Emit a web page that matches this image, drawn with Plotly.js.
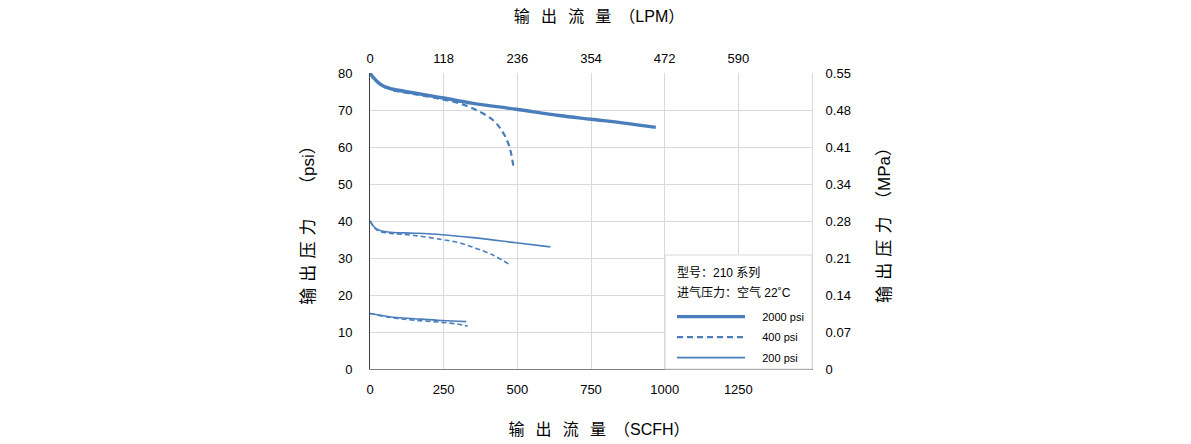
<!DOCTYPE html>
<html>
<head>
<meta charset="utf-8">
<script src="https://cdn.plot.ly/plotly-3.0.1.min.js"></script>
<style>html,body{margin:0;padding:0;background:#fff;}#chart{width:1191px;height:444px;}</style>
</head>
<body>
<div id="chart"></div>
<script>
// Flow (SCFH) and outlet pressure (psi)
const hiSolidX = [0, 11, 28, 45, 62, 79, 150, 244, 350, 496, 642, 750, 870, 970];
const hiSolidY = [80, 78.8, 77.4, 76.5, 76.0, 75.6, 74.6, 73.3, 71.8, 70.2, 68.5, 67.5, 66.4, 65.3];
const hiDashX = [0, 11, 28, 45, 62, 79, 150, 244, 304, 360, 417, 450, 473, 487];
const hiDashY = [80, 78.8, 77.3, 76.3, 75.8, 75.3, 74.3, 72.9, 71.8, 70.0, 67.3, 64.1, 60.1, 54.6];
const midSolidX = [0, 10, 20, 34, 55, 79, 150, 244, 350, 496, 612];
const midSolidY = [40, 38.8, 38.0, 37.4, 37.1, 36.9, 36.7, 36.3, 35.5, 34.1, 33.0];
const midDashX = [0, 10, 20, 34, 55, 79, 150, 244, 304, 360, 417, 470];
const midDashY = [40, 38.7, 37.8, 37.1, 36.8, 36.6, 36.1, 35.0, 34.1, 32.6, 30.8, 28.4];
const loSolidX = [0, 79, 150, 244, 327];
const loSolidY = [15, 14.0, 13.6, 13.1, 12.8];
const loDashX = [0, 79, 150, 244, 300, 332];
const loDashY = [15, 13.8, 13.2, 12.6, 12.1, 11.6];

const scfhTicks = [0, 250, 500, 750, 1000, 1250];
const lpmTickText = ['0', '118', '236', '354', '472', '590'];
const psiTicks = [0, 10, 20, 30, 40, 50, 60, 70, 80];
const mpaTickText = ['0', '0.07', '0.14', '0.21', '0.28', '0.34', '0.41', '0.48', '0.55'];

const legendNames = ['2000 psi', '400 psi', '200 psi'];
const legendTitleLines = ['型号：210 系列', '进气压力：空气 22˚C'];

const blue = '#4a7ebb';
const FONT = 'Liberation Sans, Arial, Noto Sans CJK SC, sans-serif';
const pad = '\u00a0\u00a0\u00a0\u00a0';
const sp = '\u2002\u2009';
const lead = '\u200b\u3000';

const traces = [
  {x: hiSolidX, y: hiSolidY, mode: 'lines', name: pad + legendNames[0], legendgroup: 'a', line: {color: blue, width: 3.4, shape: 'spline'}, showlegend: true},
  {x: hiDashX, y: hiDashY, mode: 'lines', name: pad + legendNames[1], legendgroup: 'b', line: {color: blue, width: 2.2, dash: '6px,4px', shape: 'spline'}, showlegend: true, xaxis: 'x2', yaxis: 'y2'},
  {x: midSolidX, y: midSolidY, mode: 'lines', name: pad + legendNames[2], legendgroup: 'c', line: {color: blue, width: 1.6, shape: 'spline'}, showlegend: true},
  {x: midDashX, y: midDashY, mode: 'lines', name: legendNames[1], legendgroup: 'b', line: {color: blue, width: 1.6, dash: '5px,3px', shape: 'spline'}, showlegend: false},
  {x: loSolidX, y: loSolidY, mode: 'lines', name: legendNames[2], legendgroup: 'c', line: {color: blue, width: 1.6, shape: 'spline'}, showlegend: false},
  {x: loDashX, y: loDashY, mode: 'lines', name: legendNames[1], legendgroup: 'b', line: {color: blue, width: 1.6, dash: '5px,3px', shape: 'spline'}, showlegend: false}
];

const layout = {
  width: 1191, height: 444,
  margin: {l: 370, r: 379, t: 73, b: 75},
  paper_bgcolor: '#fff', plot_bgcolor: '#fff',
  font: {family: FONT, size: 13, color: '#000'},
  showlegend: true,
  xaxis: {
    range: [0, 1500], tickvals: scfhTicks, showgrid: true, gridcolor: '#d9d9d9', gridwidth: 1,
    zeroline: false, showline: true, linecolor: '#808080', linewidth: 1, ticks: '', ticklabelstandoff: 8,
    title: {text: lead + '输' + sp + '出' + sp + '流' + sp + '量\u2002（SCFH）', font: {size: 16, family: FONT}, standoff: 28}
  },
  xaxis2: {
    range: [0, 1500], overlaying: 'x', side: 'top', anchor: 'y', tickvals: scfhTicks, ticktext: lpmTickText,
    showgrid: false, zeroline: false, showline: false, ticks: '', ticklabelstandoff: 6,
    title: {text: lead + '输' + sp + '出' + sp + '流' + sp + '量\u2002（LPM）', font: {size: 16, family: FONT}, standoff: 24}
  },
  yaxis: {
    range: [0, 80], tickvals: psiTicks, showgrid: true, gridcolor: '#d9d9d9', gridwidth: 1,
    zeroline: false, showline: true, linecolor: '#404040', linewidth: 1, ticks: '', ticklabelstandoff: 14,
    title: {text: '输 \u200a出 \u200a压 \u200a力\u3000\u2002（psi）', font: {size: 17, family: FONT}, standoff: 18}
  },
  yaxis2: {
    range: [0, 80], overlaying: 'y', side: 'right', anchor: 'x', tickvals: psiTicks, ticktext: mpaTickText,
    showgrid: false, zeroline: false, showline: true, linecolor: '#d9d9d9', ticks: '', ticklabelstandoff: 10,
    title: {text: '输 \u200a出 \u200a压 \u200a力\u3000（MPa）', font: {size: 17, family: FONT}, standoff: 28}
  },
  legend: {
    x: 0.6833, xanchor: 'left', y: 0.226, yanchor: 'top',
    bgcolor: 'rgba(0,0,0,0)', borderwidth: 0,
    itemwidth: 68, tracegroupgap: 1.5,
    font: {size: 11, family: FONT}
  },
  shapes: [
    {type: 'rect', xref: 'paper', yref: 'paper', x0: 0.6674, x1: 1.0, y0: 0, y1: 0.385,
     fillcolor: '#fff', line: {color: '#d9d9d9', width: 1}, layer: 'above'}
  ],
  annotations: [
    {xref: 'paper', yref: 'paper', x: 0.690, y: 0.3243, xanchor: 'left', yanchor: 'middle', showarrow: false,
     text: legendTitleLines[0], font: {size: 12, family: FONT, color: '#000'}},
    {xref: 'paper', yref: 'paper', x: 0.690, y: 0.2568, xanchor: 'left', yanchor: 'middle', showarrow: false,
     text: legendTitleLines[1], font: {size: 12, family: FONT, color: '#000'}}
  ]
};

Plotly.newPlot('chart', traces, layout, {displayModeBar: false, staticPlot: true});
</script>
</body>
</html>
